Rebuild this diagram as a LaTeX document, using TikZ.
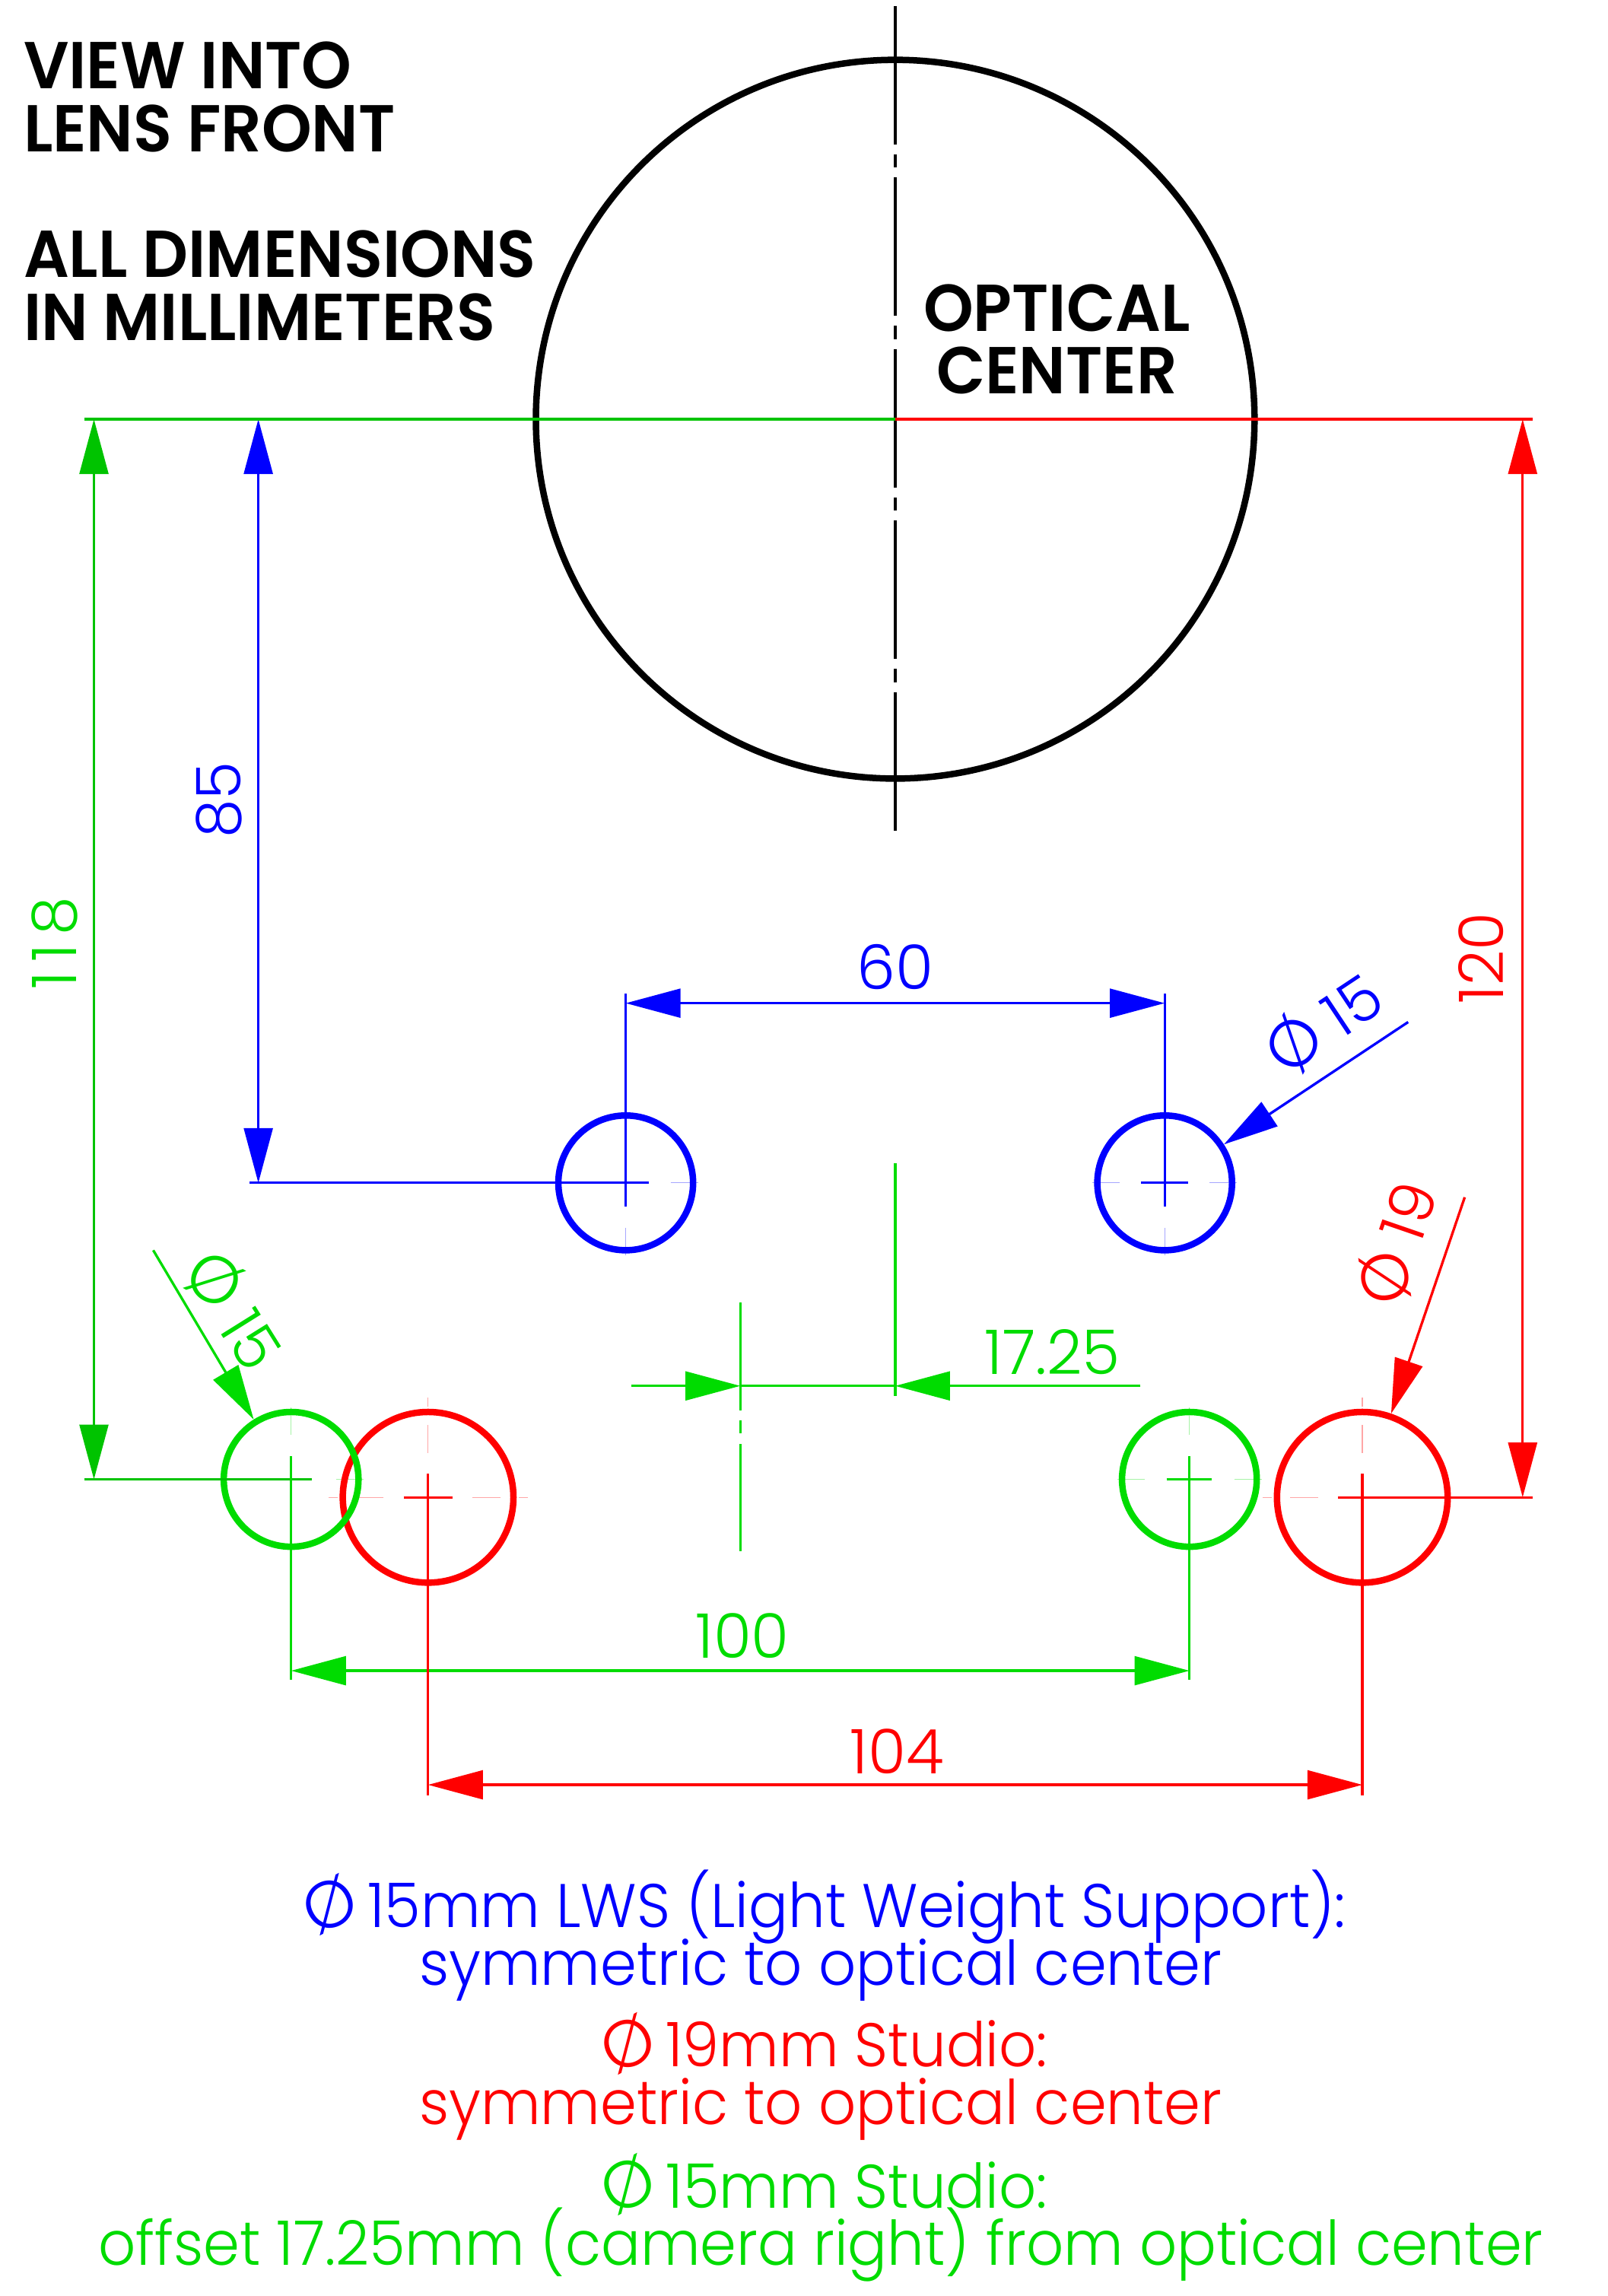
\documentclass[tikz,border=0pt]{standalone}
\usepackage{fontspec}
\usepackage{graphicx}
\usepackage{xcolor}
\usetikzlibrary{arrows.meta}
\setmainfont{Poppins Light}
\newfontfamily\notefont[FakeStretch=0.95]{Poppins Light}
\newfontfamily\dimfont[FakeStretch=1.0]{Poppins Light}
\newfontfamily\headfont[FakeStretch=0.96]{Poppins SemiBold}
\newfontfamily\diafont{Poppins Light}
\definecolor{lwsblue}{RGB}{0,0,255}
\definecolor{studred}{RGB}{255,0,0}
\definecolor{studgreen}{RGB}{0,220,0}
\definecolor{darkgreen}{RGB}{0,195,0}
\newcommand{\dia}{\smash{\rotatebox[origin=c]{28}{\fontsize{21}{21}\diafont Ø}}\kern0.4mm}
\lineskiplimit=-100pt
\normallineskiplimit=-100pt
\tikzset{
	>={Triangle[length=6.1mm,width=3.2mm]},
	thin line/.style={line width=0.28mm},
	hole/.style={circle,draw,line width=0.72mm,inner sep=0pt,minimum size=#1},
	faint/.style={line width=0.09mm,opacity=0.35},
	dimtext/.style={font=\fontsize{19.5}{19.5}\dimfont,inner sep=0pt},
	headtext/.style={font=\fontsize{21}{19.9}\headfont,inner sep=0pt},
	notetext/.style={font=\fontsize{19.5}{18.2}\notefont,inner sep=0pt,align=center,anchor=base},
}
\begin{document}
\begin{tikzpicture}[x=1mm,y=1mm]
	\useasboundingbox (-99.66,46.66) rectangle (79.34,-208.9);
	% faint center lines of the holes, under the rings
	\foreach \hx/\hy/\hcol in {-30/-85/lwsblue,30/-85/lwsblue,-67.25/-118/studgreen,32.75/-118/studgreen}{
		\foreach \a in {0,90,180,270}{
			\draw[faint,\hcol] (\hx,\hy)++(\a:5)--++(\a:3.04);
		}
	}
	\foreach \hx/\hy in {-52/-120,52/-120}{
		\foreach \a in {0,90,180,270}{
			\draw[faint,studred] (\hx,\hy)++(\a:4.94)--++(\a:3.1);
			\draw[faint,studred] (\hx,\hy)++(\a:10.08)--++(\a:1.02);
		}
	}
	% lens and its center line
	\node[hole=80mm] (lens) at (0,0) {};
	\coordinate (axt) at (0,46);
	\coordinate (axb) at (0,-46);
	\draw[thin line,dash pattern=on 15.4mm off 1.1mm on 1.5mm off 1.1mm] (axt)--(axb);
	\node[headtext,anchor=base west,align=left] (view) at (-97.1,29.8) {VIEW INTO\\LENS FRONT};
	\node[headtext,anchor=base west,align=left] (units) at (-97.1,8.8) {ALL DIMENSIONS\\IN MILLIMETERS};
	\node[headtext,anchor=base,align=center] (optical) at (18,2.8) {OPTICAL\\CENTER};
	% the six holes
	\node[hole=15mm,lwsblue] (bl) at (-30,-85) {};
	\node[hole=15mm,lwsblue] (br) at (30,-85) {};
	\node[hole=19mm,studred] (rl) at (-52,-120) {};
	\node[hole=19mm,studred] (rr) at (52,-120) {};
	\node[hole=15mm,studgreen] (gl) at (-67.25,-118) {};
	\node[hole=15mm,studgreen] (gr) at (32.75,-118) {};
	% blue
	\begin{scope}[lwsblue,thin line]
		\coordinate (b0) at (-70.9,0);
		\coordinate (b1) at (-70.9,-85);
		\draw[<->] (b0)--(b1);
		\draw (-71.9,-85)--(-27.4,-85);
		\draw (27.4,-85)--(32.6,-85);
		\draw (-30,-87.6)--(-30,-63.9);
		\draw (30,-87.6)--(30,-63.9);
		\coordinate (b2) at (-30,-65);
		\coordinate (b3) at (30,-65);
		\draw[<->] (b2)--(b3);
		\coordinate (bd) at (57.1,-67.1);
		\draw[->] (bd)--(br.33.6);
		\node[dimtext,rotate=90] (t85) at (-75.3,-42.4) {85};
		\node[dimtext] (t60) at (0,-61) {60};
		\node[dimtext,rotate=33.6] (tb15) at (47.4,-67.6) {\dia\kern0.5mm15};
	\end{scope}
	% green
	\begin{scope}[studgreen,thin line]
		\draw[darkgreen] (-90.3,0)--(lens.center);
		\coordinate (g0) at (-89.2,0);
		\coordinate (g1) at (-89.2,-118);
		\draw[<->,darkgreen] (g0)--(g1);
		\draw[darkgreen] (-90.3,-118)--(-64.9,-118);
		\draw (30.2,-118)--(35.2,-118);
		\draw (-67.25,-115.4)--(-67.25,-140.3);
		\draw (32.75,-115.4)--(32.75,-140.3);
		\coordinate (g2) at (-67.25,-139.3);
		\coordinate (g3) at (32.75,-139.3);
		\draw[<->] (g2)--(g3);
		\draw (0,-82.8)--(0,-108.7);
		\draw[dash pattern=on 12mm off 1.1mm on 1.5mm off 1.2mm] (-17.25,-98.3)--(-17.25,-126);
		\coordinate (g4) at (-29.4,-107.6);
		\coordinate (g5) at (-17.25,-107.6);
		\coordinate (g6) at (0,-107.6);
		\coordinate (g7) at (27.3,-107.6);
		\draw[->] (g4)--(g5);
		\draw (g5)--(g6);
		\draw[->] (g7)--(g6);
		\coordinate (gd) at (-82.6,-92.5);
		\draw[->] (gd)--(gl.122);
		\node[dimtext,rotate=90] (t118) at (-93.6,-58.3) {1\kern1mm1\kern1mm8};
		\node[dimtext] (t1725) at (17.5,-103.8) {17.25};
		\node[dimtext] (t100) at (-17,-135.4) {100};
		\node[dimtext,rotate=-58] (tg15) at (-74,-98.9) {\dia\kern0.5mm15};
	\end{scope}
	% red
	\begin{scope}[studred,thin line]
		\draw (lens.center)--(71,0);
		\coordinate (r0) at (69.85,0);
		\coordinate (r1) at (69.85,-120);
		\draw[<->] (r0)--(r1);
		\draw (49.3,-120)--(71,-120);
		\draw (-54.7,-120)--(-49.3,-120);
		\draw (-52,-117.4)--(-52,-153.2);
		\draw (52,-117.4)--(52,-153.2);
		\coordinate (r2) at (-52,-152);
		\coordinate (r3) at (52,-152);
		\draw[<->] (r2)--(r3);
		\coordinate (rd) at (63.4,-86.6);
		\draw[->] (rd)--(rr.71.5);
		\node[dimtext,rotate=90] (t120) at (65.2,-60) {120};
		\node[dimtext] (t104) at (0.2,-148.3) {104};
		\node[dimtext,rotate=71] (tr19) at (55.8,-92.2) {\dia\kern0.5mm19};
	\end{scope}
	% notes
	\node[notetext,lwsblue] (nb) at (-8.3,-174.3) {\dia15mm LWS (Light Weight Support):\\symmetric to optical center};
	\node[notetext,studred] (nr) at (-8.3,-189.8) {\dia19mm Studio:\\symmetric to optical center};
	\node[notetext,studgreen] (ng) at (-8.3,-205.5) {\dia15mm Studio:\\offset 17.25mm (camera right) from optical center};
\end{tikzpicture}
\end{document}
